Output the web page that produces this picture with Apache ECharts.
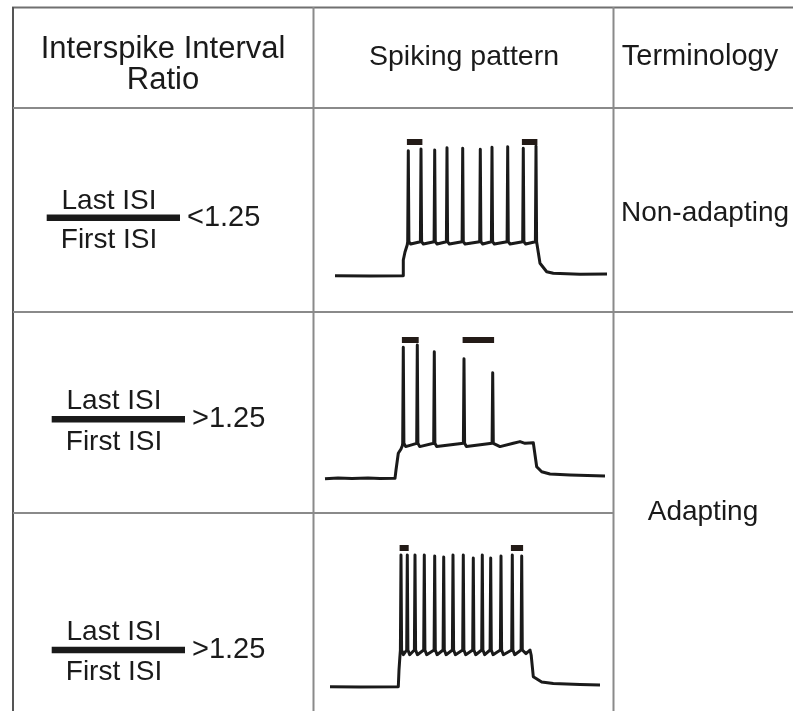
<!DOCTYPE html>
<html>
<head>
<meta charset="utf-8">
<script src="https://cdn.jsdelivr.net/npm/echarts@6/dist/echarts.min.js"></script>
<style>
  html, body { margin: 0; padding: 0; background: #fff; }
  #chart { width: 795px; height: 711px; }
</style>
</head>
<body>
<div id="chart"></div>
<script>
// ---- Table text ----
const headerLabels = ['Interspike Interval', 'Ratio', 'Spiking pattern', 'Terminology'];
const ratioNumerator = 'Last ISI';
const ratioDenominator = 'First ISI';
const ratioConditions = ['<1.25', '>1.25', '>1.25'];
const terminologyLabels = ['Non-adapting', 'Adapting'];

// ---- Recorded traces (time in ms, membrane potential in mV) ----
// Row 1: regular, non-adapting firing
const trace1SpikeTimes = [441.5, 505, 573.5, 635, 713.5, 801.5, 860, 938.5, 1016.5, 1080];
const trace1SpikePeaks = [17.5, 18.7, 18.0, 19.6, 19.2, 18.5, 19.9, 20.3, 19.2, 20.8];
const trace1Onset = [[75, -70], [250, -70.2], [416.5, -70], [416.5, -59], [425, -53.4], [436, -48.5]];
const trace1Offset = [[1091.5, -47.3], [1100, -61.3], [1133.5, -67.2], [1166.5, -68.3], [1300, -68.9], [1435, -68.8]];
const trace1Levels = [-46.2, -47.8];   // spike foot, after-hyperpolarisation trough
const trace1MarkerLevel = 23.6;

// Row 2: strongly adapting firing
const trace2SpikeTimes = [416.5, 486.5, 571.5, 720, 863.5];
const trace2SpikePeaks = [21.7, 23.3, 18.6, 13.7, 3.9];
const trace2Onset = [[25, -70.3], [90, -69.7], [160, -70.2], [240, -69.8], [300, -70.1], [375, -70], [380, -64.2], [391.5, -52.5], [405, -49.5], [412, -47]];
const trace2Offset = [[900, -47.8], [966.5, -45.5], [1000, -44.3], [1025, -45.5], [1066.5, -45.1], [1075, -46], [1083.5, -61.9], [1108.5, -65.4], [1150, -67], [1250, -67.7], [1425, -68.4]];
const trace2Levels = [-45.5, -47.8];
const trace2MarkerLevel = 26.8;

// Row 3: high-frequency, mildly adapting firing
const trace3SpikeTimes = [405, 436.5, 475, 521.5, 573.5, 618.5, 665, 716.5, 766.5, 811.5, 853.5, 905, 961.5, 1008.5];
const trace3SpikePeaks = [22.2, 22.2, 22.2, 22.2, 21.5, 20.8, 22.2, 22.2, 20.1, 22.2, 20.1, 21.5, 22.2, 21.5];
const trace3Onset = [[50, -70], [200, -70.2], [391.5, -70], [395, -58.3], [399, -50]];
const trace3Offset = [[1030, -46.8], [1050, -44.3], [1056, -48], [1066.5, -63], [1108.5, -66.7], [1166.5, -67.8], [1300, -68.5], [1400, -68.8]];
const trace3Levels = [-44.3, -47.6];
const trace3MarkerLevel = 27.1;

// Builds the voltage polyline: onset, each action potential with its
// after-hyperpolarisation, then the return to rest.
function buildTrace(onset, times, peaks, levels, offset) {
  const pts = onset.map(p => p.slice());
  const foot = levels[0], trough = levels[1];
  times.forEach((t, i) => {
    pts.push([t - 3, foot], [t, peaks[i]], [t + 3, foot]);
    if (i < times.length - 1) pts.push([t + 12, trough]);
  });
  offset.forEach(p => pts.push(p.slice()));
  return pts;
}

// First and last interspike-interval markers drawn above the spikes.
function isiMarkers(times, level) {
  const n = times.length;
  return [
    [[times[0] - 7, level], [times[1] + 7, level]],
    [[times[n - 2] - 7, level], [times[n - 1] + 7, level]]
  ];
}

const traces = [
  { pts: buildTrace(trace1Onset, trace1SpikeTimes, trace1SpikePeaks, trace1Levels, trace1Offset),
    marks: isiMarkers(trace1SpikeTimes, trace1MarkerLevel), top: 130 },
  { pts: buildTrace(trace2Onset, trace2SpikeTimes, trace2SpikePeaks, trace2Levels, trace2Offset),
    marks: isiMarkers(trace2SpikeTimes, trace2MarkerLevel), top: 332.6 },
  { pts: buildTrace(trace3Onset, trace3SpikeTimes, trace3SpikePeaks, trace3Levels, trace3Offset),
    marks: isiMarkers(trace3SpikeTimes, trace3MarkerLevel), top: 541 }
];

const FONT = '"Liberation Sans", Arial, Helvetica, sans-serif';
const INK = '#1a1a1a';
const RULE = '#8a8a8a';

const grids = [], xAxes = [], yAxes = [], series = [];
traces.forEach((tr, i) => {
  grids.push({ left: 320, width: 300, top: tr.top, height: 160 });
  xAxes.push({ type: 'value', gridIndex: i, min: 0, max: 1500, show: false });
  yAxes.push({ type: 'value', gridIndex: i, min: -80, max: 32, show: false });
  series.push({
    type: 'line', xAxisIndex: i, yAxisIndex: i, data: tr.pts,
    showSymbol: false, silent: true, animation: false,
    lineStyle: { color: INK, width: 3, join: 'round' }
  });
  tr.marks.forEach(m => series.push({
    type: 'line', xAxisIndex: i, yAxisIndex: i, data: m,
    showSymbol: false, silent: true, animation: false,
    lineStyle: { color: '#231b17', width: 6, cap: 'butt' }
  }));
});

// ---- Table rules ----
function hLine(y, x1, x2, color, w) {
  return { type: 'line', shape: { x1: x1, y1: y, x2: x2, y2: y }, style: { stroke: color, lineWidth: w }, silent: true };
}
function vLine(x, y1, y2, color, w) {
  return { type: 'line', shape: { x1: x, y1: y1, x2: x, y2: y2 }, style: { stroke: color, lineWidth: w }, silent: true };
}
function label(text, x, y, size, align) {
  return { type: 'text', x: x, y: y, silent: true,
    style: { text: text, font: size + 'px ' + FONT, fill: INK, align: align || 'center', verticalAlign: 'middle' } };
}

const graphics = [
  hLine(7.5, 12, 793, '#707070', 2),
  vLine(13, 7, 711, '#555555', 2),
  vLine(313.5, 7, 711, RULE, 2),
  vLine(613.5, 7, 711, RULE, 2),
  hLine(108, 13, 793, RULE, 2),
  hLine(312, 13, 793, RULE, 2),
  hLine(513, 13, 613, RULE, 2),

  label(headerLabels[0], 163, 49, 31),
  label(headerLabels[1], 163, 80, 31),
  label(headerLabels[2], 464, 57, 28.5),
  label(headerLabels[3], 700, 57, 29),
  label(terminologyLabels[0], 705, 213, 28),
  label(terminologyLabels[1], 703, 512, 28)
];

// Ratio fractions, one per row
const fractionRows = [
  { cx: 109, bx1: 46.7, bx2: 180, by: 217.7, num: 201, den: 240, condX: 187 },
  { cx: 114, bx1: 51.7, bx2: 185, by: 419.3, num: 401, den: 442, condX: 192 },
  { cx: 114, bx1: 51.7, bx2: 185, by: 650, num: 632, den: 672, condX: 192 }
];
fractionRows.forEach((r, i) => {
  graphics.push(label(ratioNumerator, r.cx, r.num, 28));
  graphics.push({ type: 'rect', silent: true,
    shape: { x: r.bx1, y: r.by - 3.3, width: r.bx2 - r.bx1, height: 6.6 },
    style: { fill: INK } });
  graphics.push(label(ratioDenominator, r.cx, r.den, 28));
  graphics.push(label(ratioConditions[i], r.condX, r.by, 29, 'left'));
});

const chart = echarts.init(document.getElementById('chart'), null, { renderer: 'canvas' });
chart.setOption({
  backgroundColor: '#ffffff',
  animation: false,
  grid: grids,
  xAxis: xAxes,
  yAxis: yAxes,
  series: series,
  graphic: graphics
});
</script>
</body>
</html>
